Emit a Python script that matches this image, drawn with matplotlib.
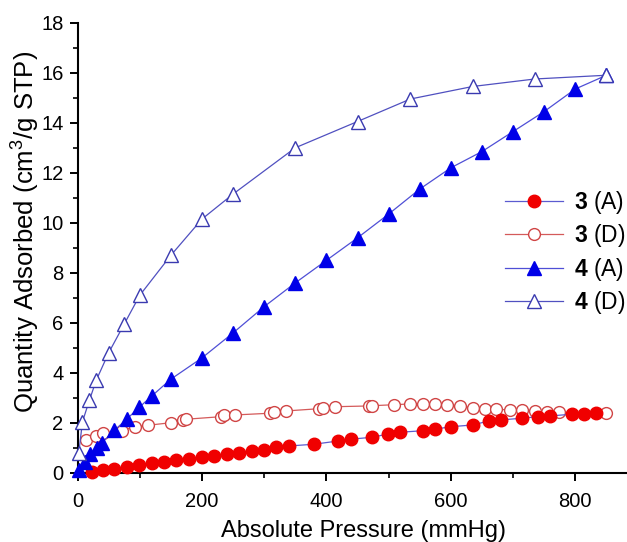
import matplotlib
matplotlib.use("Agg")
import matplotlib.pyplot as plt
from matplotlib.ticker import MultipleLocator

plt.rcParams["font.family"] = ["Liberation Sans", "DejaVu Sans"]
plt.rcParams["mathtext.fontset"] = "custom"
plt.rcParams["mathtext.rm"] = "Liberation Sans"
plt.rcParams["mathtext.bf"] = "Liberation Sans:bold"

# 3 (A): adsorption, compound 3
p3_ads = [23, 41, 58, 79, 99, 119, 139, 159, 179, 200, 219, 240, 259, 280, 300,
          319, 340, 380, 419, 439, 474, 499, 519, 555, 574, 600, 635, 661, 680,
          714, 740, 759, 795, 814, 834]
q3_ads = [0.05, 0.12, 0.15, 0.25, 0.32, 0.39, 0.45, 0.51, 0.55, 0.63, 0.68, 0.76,
          0.81, 0.88, 0.92, 1.03, 1.08, 1.15, 1.28, 1.35, 1.43, 1.56, 1.63, 1.69,
          1.75, 1.85, 1.92, 2.08, 2.12, 2.19, 2.25, 2.28, 2.35, 2.36, 2.39]

# 3 (D): desorption, compound 3
p3_des = [14, 30, 41, 71, 92, 114, 150, 170, 175, 230, 235, 253, 310, 316, 335,
          388, 395, 414, 469, 474, 509, 534, 555, 574, 594, 614, 635, 655, 673,
          695, 715, 735, 755, 774, 850]
q3_des = [1.32, 1.48, 1.59, 1.69, 1.85, 1.91, 2.01, 2.10, 2.15, 2.25, 2.30, 2.32,
          2.39, 2.42, 2.48, 2.57, 2.61, 2.65, 2.68, 2.69, 2.73, 2.76, 2.76, 2.76,
          2.73, 2.68, 2.61, 2.57, 2.55, 2.52, 2.52, 2.49, 2.45, 2.43, 2.39]

# 4 (A): adsorption, compound 4
p4_ads = [3, 12, 20, 31, 39, 59, 79, 99, 119, 150, 200, 250, 300, 350, 400, 450,
          500, 550, 600, 650, 700, 750, 800, 850]
q4_ads = [0.10, 0.45, 0.76, 1.00, 1.20, 1.70, 2.15, 2.62, 3.07, 3.75, 4.60, 5.60,
          6.65, 7.60, 8.50, 9.40, 10.35, 11.35, 12.20, 12.85, 13.65, 14.45, 15.35,
          15.90]

# 4 (D): desorption, compound 4
p4_des = [2, 8, 19, 30, 50, 75, 100, 150, 200, 250, 350, 450, 535, 635, 735, 850]
q4_des = [0.80, 2.05, 2.90, 3.70, 4.80, 5.95, 7.10, 8.70, 10.15, 11.15, 13.00,
          14.05, 14.95, 15.45, 15.75, 15.90]

fig = plt.figure(figsize=(6.27, 5.42), dpi=100)
ax = fig.add_axes([77.5 / 627, 69 / 542, 572.5 / 627, 450.3 / 542])

ax.plot(p3_des, q3_des, "-o", color="#d45a5a", lw=0.9, ms=8.5, mfc="white",
        mec="#d04545", mew=1.0, clip_on=False, zorder=3)
ax.plot(p3_ads, q3_ads, "-o", color="#5b5bd0", lw=0.9, ms=9, mfc="#f00000",
        mec="#f00000", clip_on=False, zorder=4)
ax.plot(p4_ads, q4_ads, "-^", color="#4f4fd6", lw=0.9, ms=9.5, mfc="#0000e8",
        mec="#0000e8", clip_on=False, zorder=5)
ax.plot(p4_des, q4_des, "-^", color="#5050c0", lw=0.9, ms=9.5, mfc="white",
        mec="#3a3ab0", mew=1.0, clip_on=False, zorder=6)

h = ax.get_lines()
handles = [h[1], h[0], h[2], h[3]]
labels = [r"$\mathbf{3}$ (A)", r"$\mathbf{3}$ (D)",
          r"$\mathbf{4}$ (A)", r"$\mathbf{4}$ (D)"]
fig.legend(handles, labels, loc="upper left", bbox_to_anchor=(505 / 627, 1 - 189 / 542),
           frameon=False, fontsize=16.5, handlelength=2.55, handletextpad=0.45,
           labelspacing=0.28, borderpad=0, borderaxespad=0)

ax.set_xlim(0, 920)
ax.set_ylim(0, 18)
ax.xaxis.set_major_locator(MultipleLocator(200))
ax.xaxis.set_minor_locator(MultipleLocator(100))
ax.yaxis.set_major_locator(MultipleLocator(2))
ax.yaxis.set_minor_locator(MultipleLocator(1))
ax.tick_params(which="major", direction="out", length=6, width=1.4, labelsize=14.5, pad=4)
ax.tick_params(axis="x", which="major", pad=8)
ax.tick_params(which="minor", direction="out", length=3.5, width=1.2)
for side in ("top", "right"):
    ax.spines[side].set_visible(False)
for side in ("left", "bottom"):
    ax.spines[side].set_linewidth(1.5)

ax.set_xlabel("Absolute Pressure (mmHg)", fontsize=17)
ax.set_ylabel(r"Quantity Adsorbed (cm$^3$/g STP)", fontsize=18.5)
ax.xaxis.set_label_coords(0.5, -0.105)
ax.yaxis.set_label_coords(-0.063, 0.535)

fig.savefig("out.png", dpi=100)
